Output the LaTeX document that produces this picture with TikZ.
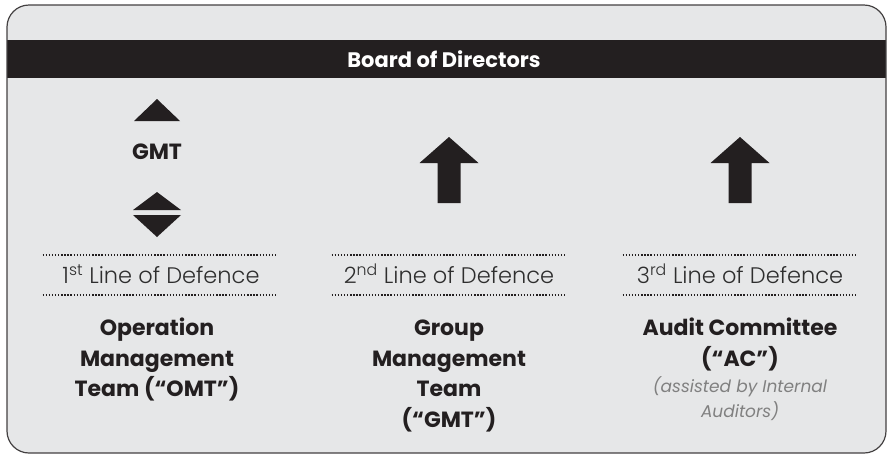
\documentclass[tikz,border=0pt]{standalone}
\usepackage{fontspec}
\setmainfont{Poppins}
\newfontfamily\lightfont{Poppins Light}
\usepackage{tikz}
\definecolor{panelgray}{HTML}{E6E7E8}
\definecolor{inkblack}{HTML}{231F20}
\definecolor{linegray}{HTML}{2E2E2E}
\definecolor{notegray}{HTML}{808080}
\tikzset{
    heading/.style={text=white,font=\bfseries\fontsize{21}{24}\selectfont},
    defence/.style={text=linegray,font=\lightfont\fontsize{22.5}{26}\selectfont,anchor=base,inner sep=0pt},
    body/.style={text=inkblack,align=center,anchor=base,inner sep=0pt,
        font=\bfseries\fontsize{22}{30.5}\selectfont},
    note/.style={text=notegray,align=center,anchor=base,inner sep=0pt,
        font=\itshape\fontsize{17}{25}\selectfont},
    dots/.style={draw=inkblack,line width=1.4pt,dash pattern=on 1.4pt off 1.7pt}
}
\newcommand\bigarrow[1]{
    \fill[inkblack] (#1,137) -- (#1+29.5,163) -- (#1+11.5,163) -- (#1+11.5,203)
        -- (#1-11.5,203) -- (#1-11.5,163) -- (#1-29.5,163) -- cycle;
}
\newcommand\dotrule[2]{
    \draw[dots] (#1-117.5,#2) -- (#1+117.5,#2);
}
\begin{document}
\begin{tikzpicture}[x=1pt,y=-1pt]
    \useasboundingbox (0,0) rectangle (889,456);
    % panel and top band
    \fill[panelgray,rounded corners=22pt] (7,5) rectangle (886,453);
    \fill[inkblack] (7,40) rectangle (886,78);
    \draw[inkblack!85,line width=1.2pt,rounded corners=22pt] (7,5) rectangle (886,453);
    \node[heading] (board) at (444,59) {Board of Directors};

    % left column: small triangles round GMT
    \fill[inkblack] (157,99) -- (180,121) -- (134,121) -- cycle;
    \node[text=inkblack,font=\bfseries\fontsize{22}{24}\selectfont] (gmt) at (157,152) {GMT};
    \fill[inkblack] (157,192) -- (181,210) -- (133,210) -- cycle;
    \fill[inkblack] (133,215) -- (181,215) -- (157,237) -- cycle;

    \bigarrow{449}
    \bigarrow{740}

    \foreach \x in {160,449,740} {
        \dotrule{\x}{255}
        \dotrule{\x}{295}
    }
    \node[defence] (first) at (161,283) {1\textsuperscript{st} Line of Defence};
    \node[defence] (second) at (449,283) {2\textsuperscript{nd} Line of Defence};
    \node[defence] (third) at (740,283) {3\textsuperscript{rd} Line of Defence};

    % team names, one line per node
    \foreach \txt [count=\i] in {Operation,Management,Team (“OMT”)}
        \node[body] (omt\i) at (157,305+30.5*\i) {\txt};
    \foreach \txt [count=\i] in {Group,Management,Team,(“GMT”)}
        \node[body] (gmtteam\i) at (449,305+30.5*\i) {\txt};
    \node[body] (ac1) at (740,335.5) {Audit Committee};
    \node[body] (ac2) at (740,366) {(“AC”)};
    \node[note] (note1) at (740,392) {(assisted by Internal};
    \node[note] (note2) at (740,417) {Auditors)};
\end{tikzpicture}
\end{document}
